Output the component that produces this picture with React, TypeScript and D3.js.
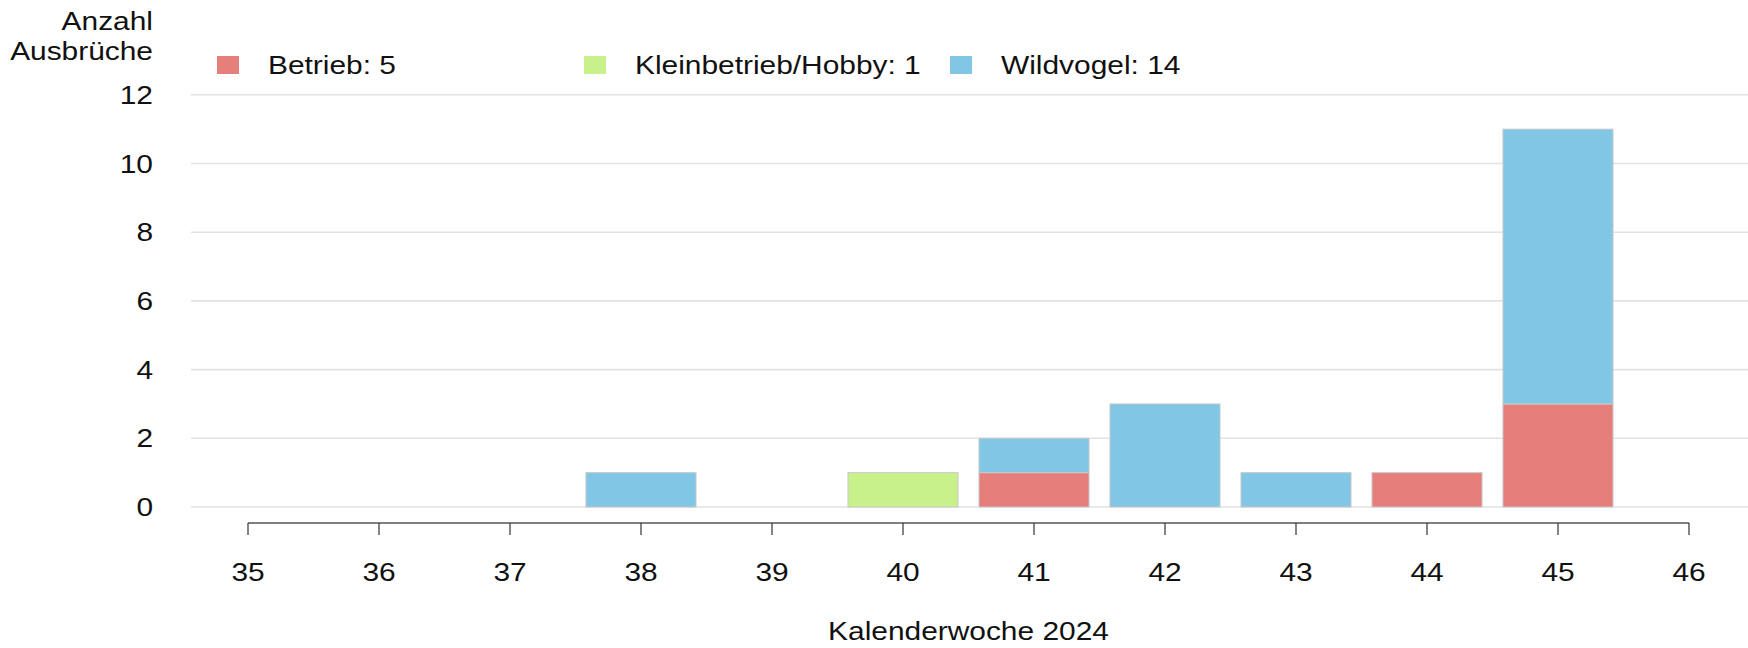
import * as d3 from "d3";
import { useRef, useEffect } from "react";

const weeks = [35, 36, 37, 38, 39, 40, 41, 42, 43, 44, 45];
const tickWeeks = [35, 36, 37, 38, 39, 40, 41, 42, 43, 44, 45, 46];
const betrieb = [0, 0, 0, 0, 0, 0, 1, 0, 0, 1, 3];
const kleinbetrieb = [0, 0, 0, 0, 0, 1, 0, 0, 0, 0, 0];
const wildvogel = [0, 0, 0, 1, 0, 0, 1, 3, 1, 0, 8];
const seriesNames = ["Betrieb", "Kleinbetrieb/Hobby", "Wildvogel"];
const seriesColors = ["#e67f7c", "#c8f08b", "#82c6e6"];
const yTicks = [0, 2, 4, 6, 8, 10, 12];

const width = 1748, height = 648;
const FONT = "'Liberation Sans', Arial, sans-serif";
const SX = 1.15; // the text in the picture is a bit wide

function App() {
    const ref = useRef(null);

    useEffect(() => {
        const svg = d3.select(ref.current);
        svg.selectAll("*").remove();

        const x = d3.scaleLinear().domain([35, 46]).range([248, 1689]);
        const y = d3.scaleLinear().domain([0, 12]).range([507, 94.8]);
        const barW = (x(36) - x(35)) * 0.84;

        const addText = (tx, ty, str, anchor) =>
            svg.append("text")
                .attr("transform", `translate(${tx},${ty}) scale(${SX},1)`)
                .attr("text-anchor", anchor)
                .style("font-family", FONT)
                .style("font-size", "26px")
                .attr("fill", "#111")
                .text(str);

        // grid
        svg.append("g").selectAll("line")
            .data(yTicks)
            .join("line")
            .attr("x1", 191).attr("x2", width)
            .attr("y1", d => y(d)).attr("y2", d => y(d))
            .attr("stroke", "#e2e2e2")
            .attr("stroke-width", 1.6);

        // y labels
        yTicks.forEach(t => addText(153, y(t) + 9, String(t), "end"));
        addText(153, 30, "Anzahl", "end");
        addText(153, 60, "Ausbrüche", "end");

        // stacked bars
        const table = weeks.map((w, i) => ({
            week: w,
            Betrieb: betrieb[i],
            "Kleinbetrieb/Hobby": kleinbetrieb[i],
            Wildvogel: wildvogel[i],
        }));
        const stacked = d3.stack().keys(seriesNames)(table);
        stacked.forEach((layer, k) => {
            svg.append("g").selectAll("rect")
                .data(layer.filter(d => d[1] > d[0]))
                .join("rect")
                .attr("x", d => x(d.data.week) - barW / 2)
                .attr("width", barW)
                .attr("y", d => y(d[1]))
                .attr("height", d => y(d[0]) - y(d[1]))
                .attr("fill", seriesColors[k])
                .attr("stroke", "#c8c8c8")
                .attr("stroke-width", 1);
        });

        // x axis
        const axisY = 523;
        svg.append("line")
            .attr("x1", x(35)).attr("x2", x(46))
            .attr("y1", axisY).attr("y2", axisY)
            .attr("stroke", "#555").attr("stroke-width", 1.5);
        svg.append("g").selectAll("line")
            .data(tickWeeks)
            .join("line")
            .attr("x1", d => x(d)).attr("x2", d => x(d))
            .attr("y1", axisY).attr("y2", axisY + 12)
            .attr("stroke", "#333").attr("stroke-width", 1.2);
        tickWeeks.forEach(w => addText(x(w), 581, String(w), "middle"));
        addText((x(35) + x(46)) / 2, 640, "Kalenderwoche 2024", "middle");

        // legend
        const totals = [d3.sum(betrieb), d3.sum(kleinbetrieb), d3.sum(wildvogel)];
        const legX = [217, 584, 950];
        seriesNames.forEach((name, k) => {
            svg.append("rect")
                .attr("x", legX[k]).attr("y", 56)
                .attr("width", 22).attr("height", 18)
                .attr("fill", seriesColors[k]);
            addText(legX[k] + 51, 74, `${name}: ${totals[k]}`, "start");
        });
    });

    return (
        <svg ref={ref} width={width} height={height}
            style={{ position: "absolute", left: 0, top: 0, background: "#fff" }} />
    );
}

export default App;
